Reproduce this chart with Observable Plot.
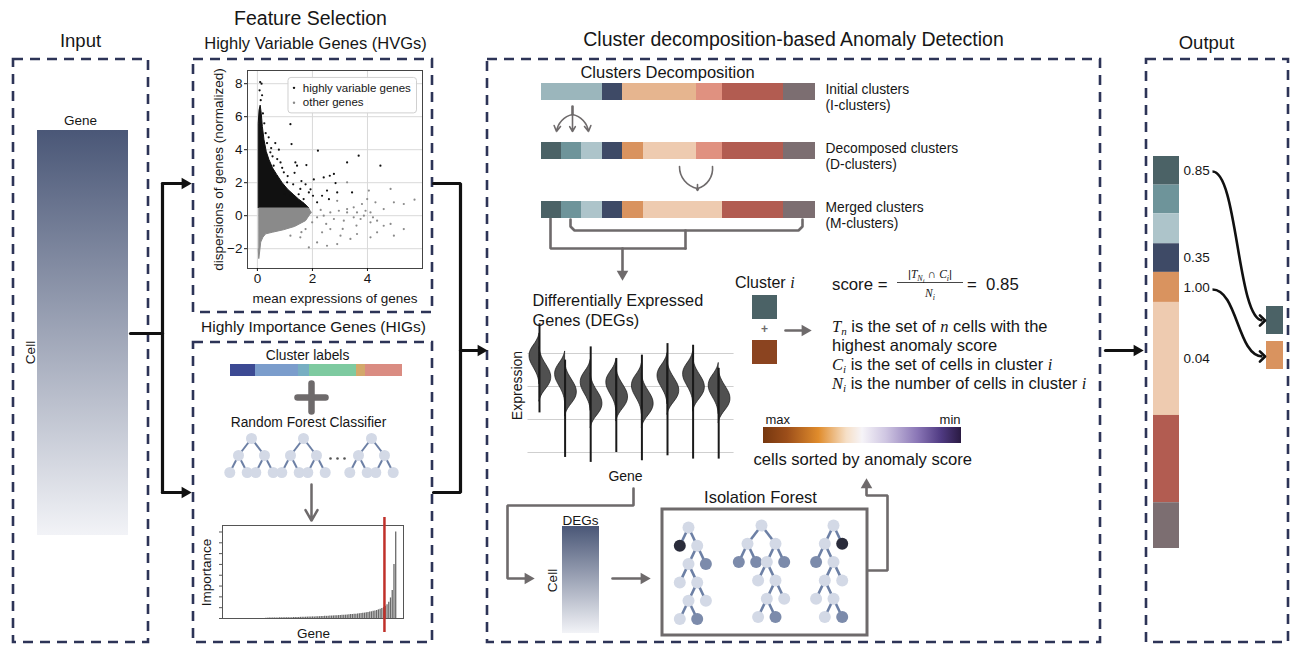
<!DOCTYPE html>
<html><head><meta charset="utf-8">
<script src="https://cdn.jsdelivr.net/npm/d3@7"></script>
<script src="https://cdn.jsdelivr.net/npm/@observablehq/plot@0.6"></script>
<style>
body{margin:0;background:#fff;}
#wrap{position:relative;width:1293px;height:645px;overflow:hidden;background:#fff;}
</style></head><body><div id="wrap"></div>
<script>
// ====================== DATA ======================
// cluster sizes (cells) and colours for the three cluster rows
const iClusterSizes = [61, 20, 74, 26, 61, 32];
const iClusterColors = ["#9bb6bc", "#3e4a66", "#e6b58f", "#e09180", "#b25c51", "#7c6e71"];
const dClusterSizes = [20, 20, 21, 20, 21, 53, 26, 61, 32];
const dClusterColors = ["#4b6266", "#6e949a", "#adc4ca", "#3e4a66", "#d9935f", "#eecbb0", "#e09180", "#b25c51", "#7c6e71"];
const mClusterSizes = [20, 20, 21, 20, 21, 79, 61, 32];
const mClusterColors = ["#4b6266", "#6e949a", "#adc4ca", "#3e4a66", "#d9935f", "#eecbb0", "#b25c51", "#7c6e71"];
const mClusterScores = [0.85, null, null, 0.35, 1.00, 0.04, null, null];
const anomalyThreshold = 0.85;
const clusterRowNames = ["I", "D", "M"];
const clusterRowLabels = ["Initial clusters\n(I-clusters)", "Decomposed clusters\n(D-clusters)", "Merged clusters\n(M-clusters)"];

// random-forest cluster labels bar
const rfLabelSizes = [25, 43, 11, 47, 9, 37];
const rfLabelColors = ["#3c4a93", "#7b9dcc", "#77aec2", "#7ecaa0", "#d3a86b", "#da8c82"];

// gene importance (sorted ascending) and selection cutoff index
const importance = [
  0.0003,0.0003,0.0004,0.0004,0.0004,0.0005,0.0005,0.0005,0.0006,0.0006,
  0.0006,0.0007,0.0007,0.0008,0.0008,0.0008,0.0009,0.0009,0.0010,0.0010,
  0.0011,0.0011,0.0012,0.0012,0.0013,0.0013,0.0014,0.0015,0.0015,0.0016,
  0.0017,0.0017,0.0018,0.0019,0.0020,0.0020,0.0021,0.0022,0.0023,0.0024,
  0.0025,0.0026,0.0027,0.0028,0.0029,0.0030,0.0031,0.0033,0.0034,0.0036,
  0.0037,0.0039,0.0040,0.0042,0.0044,0.0046,0.0048,0.0050,0.0053,0.0056,
  0.0059,0.0062,0.0066,0.0070,0.0075,0.0080,0.0086,0.0093,0.0102,0.0113,
  0.0128,0.0150,0.0190,0.0260,0.0500,0.0800];
const importanceCutoff = 68.5;
const importanceTicks = [0, 0.01, 0.02, 0.03, 0.04, 0.05, 0.06, 0.07, 0.08];

// HVG scatter: mean expression (x) vs normalized dispersion (y)
const hvgDenseOutline = [[0.03,0.5],[0.03,5.6],[0.06,6.4],[0.1,6.7],[0.14,6.2],[0.18,5.4],[0.24,4.6],[0.32,3.9],[0.42,3.4],[0.55,2.9],[0.7,2.5],[0.9,2.0],[1.1,1.6],[1.3,1.3],[1.5,1.0],[1.7,0.75],[1.85,0.5]];
const otherDenseOutline = [[0.03,0.5],[1.85,0.5],[1.95,0.2],[1.75,-0.3],[1.35,-0.65],[0.95,-0.85],[0.55,-1.0],[0.3,-1.1],[0.2,-1.3],[0.12,-1.6],[0.08,-2.2],[0.05,-2.6],[0.03,-2.0]];
const hvgPoints = [[0.41,4.75],[0.65,4.4],[0.78,4.0],[1.2,5.55],[1.24,4.34],[1.38,3.23],[1.44,3.03],[1.78,3.07],[2.2,3.94],[1.93,1.6],[1.87,1.41],[2.17,0.81],[2.41,2.32],[2.78,2.53],[2.63,2.42],[2.53,1.52],[2.84,1.98],[2.9,1.41],[3.26,3.23],[3.68,3.64],[4.47,3.03],[2.35,1.21],[1.56,1.62],[1.08,2.02],[0.96,2.63],[0.59,3.03],[0.84,3.23],[1.68,1.01],[1.2,1.21],[2.02,1.21],[3.44,1.41],[0.72,3.43],[0.47,3.84],[0.1,8.1],[0.15,8.0],[0.08,7.6],[0.12,7.0],[0.17,7.3],[0.2,6.2],[0.25,5.6],[0.3,5.0],[0.55,3.6],[0.9,2.9],[1.1,2.4],[1.3,1.9],[1.5,1.3],[1.6,2.1],[2.6,1.0],[1.0,1.3],[0.7,2.4],[1.35,2.6],[1.75,1.9],[2.05,2.2],[0.35,4.4],[0.5,4.1]];
const otherPoints = [[3.26,2.02],[4.05,1.52],[4.84,1.62],[4.96,0.81],[5.32,0.71],[5.71,0.97],[4.29,0.81],[3.99,1.01],[3.8,0.71],[3.5,0.51],[3.26,0.4],[2.96,0.3],[2.65,0.2],[2.41,0],[2.17,-0.1],[2.78,-0.2],[3.14,-0.3],[3.5,-0.1],[3.75,-0.2],[3.87,0],[4.11,-0.4],[4.35,-0.3],[4.59,-0.61],[4.84,-0.5],[5.32,-0.81],[4.96,-1.21],[4.35,-1.01],[4.11,-1.31],[3.62,-1.11],[3.38,-1.41],[3.02,-1.21],[2.65,-0.81],[2.35,-1.01],[2.17,-1.62],[1.87,-1.92],[2.53,-1.82],[2.9,-1.72],[3.26,0.2],[3.62,0.2],[3.93,0.3],[4.11,0.2],[4.59,0.4],[1.93,0.2],[1.99,-0.4],[1.75,-0.81],[1.56,-1.31],[1.2,-1.21],[2.3,0.35],[2.5,-0.5],[2.9,0.9],[3.1,-0.8],[3.6,-0.6],[4.2,-0.1],[1.6,-1.0]];
const scatterXTicks = [0, 2, 4];
const scatterYTicks = [-2, 0, 2, 4, 6, 8];

// DEG split violins (expression units), one entry per gene
const degLineTop    = [3.9, 2.8, 3.2, 2.85, 2.95, 3.3, 3.25, 2.55];
const degLineBottom = [1.2, -0.15, -0.3, 0.0, -0.25, -0.1, -0.2, -0.2];
const degUpperCenter = [2.9, 2.35, 2.1, 2.1, 2.0, 2.3, 2.35, 2.0];
const degLowerCenter = [2.3, 1.85, 1.5, 1.7, 1.5, 1.9, 2.0, 1.65];
const violinOffsets = [-1.0, -0.8, -0.6, -0.4, -0.2, 0, 0.2, 0.4, 0.6, 0.8, 1.0, 1.2];
const violinDensity = [0, 0.12, 0.38, 0.72, 0.95, 1, 0.9, 0.66, 0.4, 0.18, 0.05, 0];
const degGrid = [0, 1, 2, 3];

// trees: [node, left, right]; L = light, M = mid, D = dark (isolated) node
const rfTree = ["L", ["L", "L", "L"], ["L", "L", "L"]];
const isoTrees = [
  ["L", "D", ["L", ["L", "L", ["L", ["L", "L", "M"], "L"]], "M"]],
  ["L", ["L", "M", "M"], ["L", ["L", "L", ["L", ["L", "L", "M"], "L"]], "M"]],
  ["L", ["L", "M", ["L", ["L", "L", ["L", "L", "M"]], "L"]], "D"]
];
const nodeColors = {L: "#d3d9e6", M: "#7c8bab", D: "#2a2c3b"};

// anomaly score colour bar
const scoreStops = [[0, "#76370f"], [0.12, "#9c4e1a"], [0.28, "#e08c2c"], [0.42, "#f6dfc6"], [0.5, "#f6f4f8"], [0.62, "#cfc6e2"], [0.78, "#8a76b6"], [0.9, "#4f3a82"], [1, "#2a1a42"]];
const cellGradient = [[0, "#4a5777"], [1, "#f2f3f7"]];
const anomalySquareColor = "#8b4420";

// ====================== LAYOUT ======================
const W = 1293, H = 645;
const FONT = "'Liberation Sans', Arial, sans-serif";
const SERIF = "'Liberation Serif', 'DejaVu Serif', serif";
const INK = "#161616", NAVY = "#2d3457", GRAY = "#6e6a6b";
const baseStyle = `position:absolute;left:0;top:0;background:transparent;font-family:${FONT};overflow:visible`;
const full = (opts) => Plot.plot({width: W, height: H, margin: 0, style: baseStyle, ...opts});

const panels = [
  {x1: 13, y1: 59, x2: 148, y2: 642}, {x1: 193, y1: 59, x2: 432, y2: 312},
  {x1: 193, y1: 342, x2: 432, y2: 642}, {x1: 487, y1: 59, x2: 1100, y2: 642},
  {x1: 1146, y1: 59, x2: 1288, y2: 642}
];
const labels = [
  {t: "Input", x: 80, y: 41, s: 18.5}, {t: "Feature Selection", x: 310, y: 18, s: 19.5},
  {t: "Highly Variable Genes (HVGs)", x: 315, y: 43, s: 16.5},
  {t: "Cluster decomposition-based Anomaly Detection", x: 793, y: 39, s: 19.5},
  {t: "Output", x: 1206, y: 43, s: 18.5}, {t: "Gene", x: 80, y: 120, s: 13.5},
  {t: "Cell", x: 30, y: 352, s: 13.5, r: -90},
  {t: "Highly Importance Genes (HIGs)", x: 313, y: 327, s: 15.5},
  {t: "Cluster labels", x: 307, y: 355, s: 13.8},
  {t: "Random Forest Classifier", x: 308, y: 422, s: 13.8},
  {t: "Importance", x: 206, y: 572, s: 13.5, r: -90}, {t: "Gene", x: 313, y: 633, s: 13.5},
  {t: "Clusters Decomposition", x: 667, y: 72, s: 16.5},
  {t: "Expression", x: 517, y: 385, s: 14, r: -90}, {t: "Gene", x: 625, y: 476, s: 14},
  {t: "DEGs", x: 580, y: 520, s: 13.5}, {t: "Cell", x: 552, y: 580, s: 13.5, r: -90},
  {t: "Isolation Forest", x: 760, y: 497, s: 16.5}
];
const labelsStart = [
  {t: "Differentially Expressed", x: 532, y: 300, s: 16.3}, {t: "Genes (DEGs)", x: 532, y: 320, s: 16.3},
  {t: "max", x: 765, y: 419, s: 13}, {t: "cells sorted by anomaly score", x: 753, y: 459, s: 16.6}
];
const labelsEnd = [{t: "min", x: 960, y: 419, s: 13}];

const blackPaths = [
  [[130,333],[162,333]], [[162,183],[162,492]], [[162,183],[184,183]], [[162,492],[184,492]],
  [[433,183],[460,183],[460,492],[433,492]], [[460,350],[480,350]], [[1105,350],[1136,350]]
];
const blackHeads = [{x: 191, y: 183, dir: "right"}, {x: 191, y: 492, dir: "right"}, {x: 487, y: 350, dir: "right"}, {x: 1143, y: 350, dir: "right"}];
const grayPaths = [
  [[550,218],[550,248],[685,248]],
  [[570,219],[570,226],[574,230],[798,230],[802,226],[802,219]],
  [[685,230],[685,248]], [[622,248],[622,272]], [[785,330],[803,330]],
  [[633,488],[633,505],[507,505],[507,578],[526,578]], [[612,578],[642,578]],
  [[867,570],[887,570],[887,495],[866,495],[866,487]], [[572,106],[572,114]]
];
const grayHeads = [{x: 622, y: 280, dir: "down"}, {x: 811, y: 330, dir: "right"}, {x: 534, y: 578, dir: "right"}, {x: 650, y: 578, dir: "right"}, {x: 866, y: 478, dir: "up"}];

// helpers
function flatten(paths) { return paths.flatMap((p, id) => p.map(([x, y]) => ({id, x, y}))); }
function headData(heads) {
  const off = 6.5, v = {right: [1, 0, 90], left: [-1, 0, -90], up: [0, -1, 0], down: [0, 1, 180]};
  return heads.map(h => { const [dx, dy, r] = v[h.dir]; return {x: h.x - dx * off, y: h.y - dy * off, r}; });
}
function layoutTree(t, x, y, dxWide, dxNarrow, dy, nodes, links) {
  const leaf = typeof t === "string";
  nodes.push({x, y, c: leaf ? t : t[0]});
  if (leaf) return;
  const [, l, r] = t;
  const dx = (typeof l !== "string" && typeof r !== "string") ? dxWide : dxNarrow;
  for (const [ch, cx] of [[l, x - dx], [r, x + dx]]) {
    links.push({x1: x, y1: y, x2: cx, y2: y + dy});
    layoutTree(ch, cx, y + dy, dxWide, dxNarrow, dy, nodes, links);
  }
}
const rfNodes = [], rfLinks = [];
[251, 303, 371].forEach(x => layoutTree(rfTree, x, 438, 13, 8.7, 17, rfNodes, rfLinks));
const isoNodes = [], isoLinks = [];
[[688, 527], [761, 525], [833, 525]].forEach(([x, y], i) => layoutTree(isoTrees[i], x, y, 14, 8.7, 18.3, isoNodes, isoLinks));

function gradientDefs() {
  return () => {
    const defs = d3.create("svg:defs");
    const add = (id, stops, vertical) => {
      const g = defs.append("linearGradient").attr("id", id).attr("x1", 0).attr("y1", 0)
        .attr("x2", vertical ? 0 : 1).attr("y2", vertical ? 1 : 0);
      stops.forEach(([o, c]) => g.append("stop").attr("offset", o).attr("stop-color", c));
    };
    add("gCell", cellGradient, true);
    add("gScore", scoreStops, false);
    return defs.node();
  };
}
function mathMark() {
  return () => {
    const g = d3.create("svg:g").attr("fill", INK).attr("font-family", FONT);
    const line = (x, y, parts, size, anchor = "start") => {
      const t = g.append("text").attr("x", x).attr("y", y).attr("font-size", size).attr("text-anchor", anchor);
      let shift = 0;
      for (const p of parts) {
        const s = typeof p === "string" ? {t: p} : p;
        const target = s.sub || 0;
        const ts = t.append("tspan").text(s.t).attr("dy", target - shift);
        shift = target;
        if (s.it) ts.attr("font-family", SERIF).attr("font-style", "italic");
        if (s.fs) ts.attr("font-size", s.fs);
      }
    };
    line(735, 288, ["Cluster ", {t: "i", it: true}], 16);
    line(832, 290, ["score ="], 16.8);
    line(930, 278, ["|", {t: "T", it: true}, {t: "N", it: true, sub: 2.5, fs: 8}, {t: "i", it: true, sub: 4.5, fs: 6.5}, {t: " \u2229 ", sub: 0}, {t: "C", it: true}, {t: "i", it: true, sub: 2.5, fs: 8}, {t: "|", sub: 0}], 11.5, "middle");
    g.append("line").attr("x1", 897).attr("x2", 963).attr("y1", 282.5).attr("y2", 282.5).attr("stroke", INK).attr("stroke-width", 0.8);
    line(930, 297, [{t: "N", it: true}, {t: "i", it: true, sub: 2.5, fs: 8}], 11.5, "middle");
    line(967, 290, ["= \u00a00.85"], 16.8);
    line(832, 332, [{t: "T", it: true}, {t: "n", it: true, sub: 3, fs: 11}, {t: " is the set of ", sub: 0}, {t: "n", it: true}, " cells with the"], 16.5);
    line(832, 351, ["highest anomaly score"], 16.5);
    line(832, 370, [{t: "C", it: true}, {t: "i", it: true, sub: 3, fs: 11}, {t: " is the set of cells in cluster ", sub: 0}, {t: "i", it: true}], 16.5);
    line(832, 389, [{t: "N", it: true}, {t: "i", it: true, sub: 3, fs: 11}, {t: " is the number of cells in cluster ", sub: 0}, {t: "i", it: true}], 16.5);
    return g.node();
  };
}

const anomalyIdx = mClusterScores.map((s, i) => s != null && s >= anomalyThreshold ? i : -1).filter(i => i >= 0);
const outSquares = anomalyIdx.map((ci, k) => ({x1: 1266, x2: 1283, y1: 306 + k * 35, y2: 334 + k * 35, fill: mClusterColors[ci]}));

// ====================== BACKGROUND (diagram) ======================
const textMark = (data, anchor) => Plot.text(data, {x: "x", y: "y", text: "t", fontSize: "s", rotate: d => d.r || 0, textAnchor: anchor, fill: INK, fontFamily: FONT});
const arrowXY = {x1: "x1", y1: "y1", x2: "x2", y2: "y2"};
const background = Plot.plot({
  width: W, height: H, margin: 0,
  style: `background:#fff;font-family:${FONT}`,
  x: {domain: [0, W], range: [0, W], axis: null},
  y: {domain: [0, H], range: [0, H], axis: null},
  marks: [
    gradientDefs(),
    Plot.rect(panels, {...arrowXY, fill: "none", stroke: NAVY, strokeWidth: 2.6, strokeDasharray: "10,7"}),
    Plot.rect([{x1: 37, y1: 130, x2: 128, y2: 535}, {x1: 562, y1: 526, x2: 599, y2: 633}], {...arrowXY, fill: "url(#gCell)"}),
    Plot.rect([{x1: 763, y1: 427, x2: 961, y2: 443}], {...arrowXY, fill: "url(#gScore)"}),
    Plot.rect([{x1: 662, y1: 509, x2: 867, y2: 635}], {...arrowXY, fill: "none", stroke: GRAY, strokeWidth: 3}),
    Plot.line(flatten(blackPaths), {x: "x", y: "y", z: "id", stroke: "#111", strokeWidth: 3.2, strokeLinejoin: "miter"}),
    Plot.dot(headData(blackHeads), {x: "x", y: "y", rotate: "r", symbol: "triangle", r: 4.3, fill: "#111"}),
    Plot.line(flatten(grayPaths), {x: "x", y: "y", z: "id", stroke: GRAY, strokeWidth: 2.6, strokeLinejoin: "miter"}),
    Plot.dot(headData(grayHeads), {x: "x", y: "y", rotate: "r", symbol: "triangle", r: 4.3, fill: GRAY}),
    Plot.arrow([{x1: 311, y1: 484, x2: 311, y2: 520}], {...arrowXY, stroke: GRAY, strokeWidth: 2.5, headLength: 11}),
    // split arrows (I -> D)
    Plot.arrow([{x1: 572, y1: 114, x2: 556, y2: 131}], {...arrowXY, bend: -35, stroke: GRAY, strokeWidth: 1.6, headLength: 6}),
    Plot.arrow([{x1: 572, y1: 114, x2: 572, y2: 131}], {...arrowXY, stroke: GRAY, strokeWidth: 1.6, headLength: 6}),
    Plot.arrow([{x1: 572, y1: 114, x2: 588, y2: 131}], {...arrowXY, bend: 35, stroke: GRAY, strokeWidth: 1.6, headLength: 6}),
    // merge arrows (D -> M)
    Plot.arrow([{x1: 679, y1: 166, x2: 697, y2: 188}], {...arrowXY, bend: -40, stroke: GRAY, strokeWidth: 1.6, headLength: 0}),
    Plot.arrow([{x1: 712, y1: 166, x2: 697, y2: 188}], {...arrowXY, bend: 40, stroke: GRAY, strokeWidth: 1.6, headLength: 0}),
    Plot.arrow([{x1: 697, y1: 184, x2: 697, y2: 190}], {...arrowXY, stroke: GRAY, strokeWidth: 1.6, headLength: 6}),
    // plus signs
    Plot.line([{id: 0, x: 297, y: 397}, {id: 0, x: 325, y: 397}, {id: 1, x: 311, y: 383}, {id: 1, x: 311, y: 411}], {x: "x", y: "y", z: "id", stroke: GRAY, strokeWidth: 6.5}),
    Plot.text([{x: 764, y: 329}], {x: "x", y: "y", text: () => "+", fontSize: 12, fill: GRAY, fontWeight: "bold"}),
    // random forest trees
    Plot.link(rfLinks, {...arrowXY, stroke: "#6d80a5", strokeWidth: 2}),
    Plot.dot(rfNodes, {x: "x", y: "y", r: 5.5, fill: d => nodeColors[d.c]}),
    Plot.dot([{x: 330, y: 458}, {x: 337, y: 458}, {x: 344, y: 458}], {x: "x", y: "y", r: 1.3, fill: "#555"}),
    // isolation forest trees
    Plot.link(isoLinks, {...arrowXY, stroke: "#6d80a5", strokeWidth: 2.6}),
    Plot.dot(isoNodes, {x: "x", y: "y", r: 6, fill: d => nodeColors[d.c]}),
    // cluster i squares
    Plot.rect([{x1: 752, y1: 295, x2: 777, y2: 319, f: mClusterColors[0]}, {x1: 752, y1: 340, x2: 777, y2: 364, f: anomalySquareColor}], {...arrowXY, fill: "f"}),
    // output: selected anomalous clusters
    Plot.rect(outSquares, {...arrowXY, fill: "fill"}),
    Plot.link([{x1: 1212, y1: 171, x2: 1262, y2: 320}, {x1: 1212, y1: 289, x2: 1262, y2: 356}], {...arrowXY, curve: "bump-x", stroke: "#111", strokeWidth: 2.6, markerEnd: "arrow"}),
    textMark(labels, "middle"), textMark(labelsStart, "start"), textMark(labelsEnd, "end"),
    mathMark()
  ]
});

// ====================== OVERLAY CHARTS ======================
function segments(sizes, colors, row) {
  let acc = 0;
  return sizes.map((v, k) => { const s = {row, x1: acc, x2: acc + v, color: colors[k]}; acc += v; return s; });
}
const clusterSegs = [
  ...segments(iClusterSizes, iClusterColors, "I"),
  ...segments(dClusterSizes, dClusterColors, "D"),
  ...segments(mClusterSizes, mClusterColors, "M")
];
const totalCells = d3.sum(mClusterSizes);
const clusterPlot = full({
  x: {domain: [0, totalCells], range: [541, 815], axis: null},
  y: {domain: clusterRowNames, range: [83, 218], paddingInner: 0.714, paddingOuter: 0, axis: null},
  marks: [
    Plot.barX(clusterSegs, {x1: "x1", x2: "x2", y: "row", fill: "color"}),
    Plot.text(clusterRowNames, {x: totalCells, y: d => d, text: (d, i) => clusterRowLabels[i], dx: 10, dy: 5, textAnchor: "start", fontSize: 13.8, lineHeight: 1.15, fill: INK})
  ]
});

const outSegs = segments(mClusterSizes, mClusterColors, "out").map((s, i) => ({...s, score: mClusterScores[i]}));
const outputPlot = full({
  x: {domain: [0, 1], range: [1153, 1179], axis: null},
  y: {domain: [0, totalCells], range: [156, 548], axis: null},
  marks: [
    Plot.rect(outSegs, {x1: 0, x2: 1, y1: "x1", y2: "x2", fill: "color"}),
    Plot.text(outSegs.filter(d => d.score != null), {x: 1, y: d => (d.x1 + d.x2) / 2, text: d => d.score.toFixed(2), dx: 4, textAnchor: "start", fontSize: 13.5, fill: INK})
  ]
});

const rfSegs = segments(rfLabelSizes, rfLabelColors, "rf");
const rfPlot = full({
  x: {domain: [0, d3.sum(rfLabelSizes)], range: [230, 402], axis: null},
  y: {domain: [0, 1], range: [376, 364], axis: null},
  marks: [Plot.rect(rfSegs, {x1: "x1", x2: "x2", y1: 0, y2: 1, fill: "color"})]
});

const scatterPlot = full({
  marginLeft: 247, marginRight: W - 422, marginTop: 70, marginBottom: H - 268,
  x: {domain: [-0.36, 6.0]}, y: {domain: [-3.2, 8.8]},
  marks: [
    Plot.gridX(scatterXTicks, {stroke: "#d9d9d9", strokeOpacity: 1}),
    Plot.gridY(scatterYTicks, {stroke: "#d9d9d9", strokeOpacity: 1}),
    Plot.line(otherDenseOutline, {x: d => d[0], y: d => d[1], fill: "#8a8a8a", stroke: "#8a8a8a", strokeWidth: 1}),
    Plot.line(hvgDenseOutline, {x: d => d[0], y: d => d[1], fill: "#111", stroke: "#111", strokeWidth: 1}),
    Plot.dot(otherPoints, {x: d => d[0], y: d => d[1], r: 1.1, fill: "#8a8a8a"}),
    Plot.dot(hvgPoints, {x: d => d[0], y: d => d[1], r: 1.1, fill: "#111"}),
    Plot.rect([0], {x1: 1.13, x2: 5.8, y1: 6.2, y2: 8.35, fill: "white", fillOpacity: 0.9, stroke: "#d0d0d0", rx: 3}),
    Plot.dot([{x: 1.33, y: 7.75, f: "#111"}, {x: 1.33, y: 6.85, f: "#8a8a8a"}], {x: "x", y: "y", r: 1.2, fill: "f"}),
    Plot.text([{x: 1.65, y: 7.75, t: "highly variable genes"}, {x: 1.65, y: 6.85, t: "other genes"}], {x: "x", y: "y", text: "t", textAnchor: "start", fontSize: 11.5, fill: INK}),
    Plot.frame({stroke: "#444"}),
    Plot.axisX(scatterXTicks, {fontSize: 13.5, tickSize: 3, tickPadding: 2, label: "mean expressions of genes", labelAnchor: "center", labelArrow: "none", labelOffset: 34, color: INK}),
    Plot.axisY(scatterYTicks, {fontSize: 13.5, tickSize: 3, tickPadding: 2, label: "dispersions of genes (normalized)", labelAnchor: "center", labelArrow: "none", labelOffset: 34, color: INK})
  ]
});

const importancePlot = full({
  marginLeft: 222, marginRight: W - 403, marginTop: 525, marginBottom: H - 618,
  x: {domain: [-25, 79.5], axis: null}, y: {domain: [0, 0.086]},
  marks: [
    Plot.ruleX(importance, {x: (d, i) => i, y1: 0, y2: d => d, stroke: "#6a6a6a", strokeWidth: 1.3}),
    Plot.axisY(importanceTicks, {tickSize: 3, tickFormat: () => "", label: null, stroke: "#555"}),
    Plot.frame({stroke: "#555"}),
    Plot.ruleX([importanceCutoff], {stroke: "#c0302a", strokeWidth: 2.5, insetTop: -8, insetBottom: -14})
  ]
});

const violinAreas = [];
degUpperCenter.forEach((c, g) => violinOffsets.forEach((o, k) => violinAreas.push({id: "u" + g, y: c - o * 0.7, x1: g, x2: g - 0.4 * violinDensity[k]})));
degLowerCenter.forEach((c, g) => violinOffsets.forEach((o, k) => violinAreas.push({id: "l" + g, y: c + o * 0.75, x1: g, x2: g + 0.47 * violinDensity[k]})));
const violinPlot = full({
  x: {domain: [-0.664, 7.617], range: [522, 734], axis: null},
  y: {domain: [0, 4], range: [452, 320], axis: null},
  marks: [
    Plot.ruleY(degGrid, {x1: -0.45, x2: 7.6, stroke: "#cfcfcf", strokeWidth: 1.2}),
    Plot.areaX(violinAreas, {y: "y", x1: "x1", x2: "x2", z: "id", fill: "#505050", stroke: "#151515", strokeWidth: 0.7, curve: "basis"}),
    Plot.ruleX(degLineTop, {x: (d, i) => i, y1: (d, i) => degLineBottom[i], y2: d => d, stroke: "#1a1a1a", strokeWidth: 2})
  ]
});

const wrap = document.getElementById("wrap");
[background, clusterPlot, outputPlot, rfPlot, scatterPlot, importancePlot, violinPlot].forEach((p, i) => {
  if (i === 0) p.setAttribute("style", (p.getAttribute("style") || "") + ";position:absolute;left:0;top:0");
  wrap.appendChild(p);
});
</script></body></html>
